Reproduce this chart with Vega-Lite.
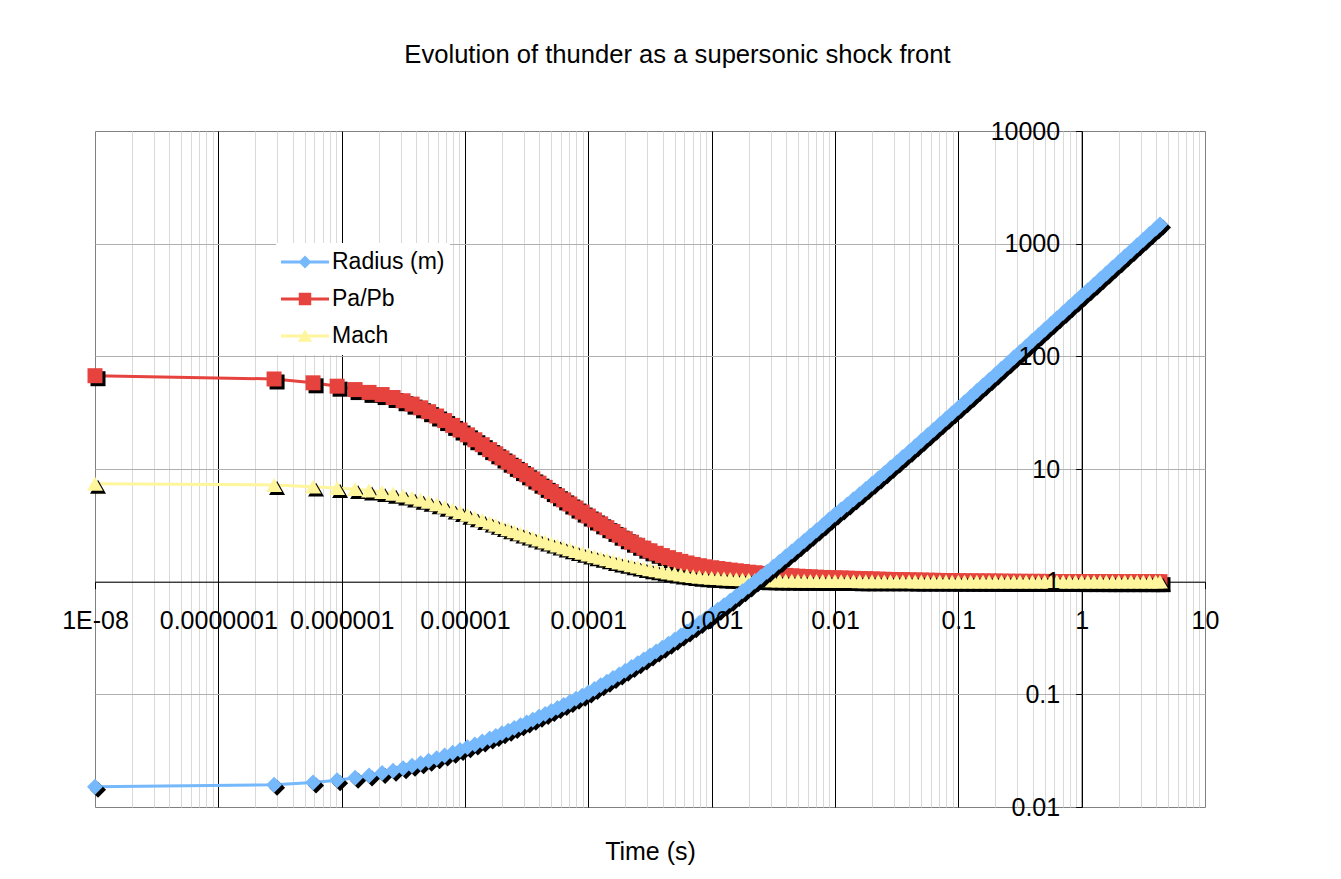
{
  "$schema": "https://vega.github.io/schema/vega-lite/v6.json",
  "width": 1110,
  "height": 676,
  "autosize": {"type": "none"},
  "padding": {"left": 95, "top": 131, "right": 136, "bottom": 72},
  "background": "white",
  "title": {"text": "Evolution of thunder as a supersonic shock front", "font": "Liberation Sans", "fontSize": 25.6, "fontWeight": "normal", "color": "black", "anchor": "middle", "dx": 27.5, "offset": 30, "baseline": "alphabetic"},
  "config": {"view": {"stroke": "#808080", "strokeWidth": 1}, "font": "Liberation Sans"},
  "data": {"values": [
    {"time":1e-8,"radius":0.0151,"pressure":67.3,"mach":7.396},
    {"time":2.831e-7,"radius":0.01578,"pressure":62.95,"mach":7.211},
    {"time":5.861e-7,"radius":0.01652,"pressure":58.21,"mach":6.966},
    {"time":9.183e-7,"radius":0.0173,"pressure":54.33,"mach":6.776},
    {"time":1.285e-6,"radius":0.01815,"pressure":50.7,"mach":6.622},
    {"time":1.667e-6,"radius":0.019,"pressure":47.86,"mach":6.442},
    {"time":2.128e-6,"radius":0.02001,"pressure":45.8,"mach":6.236},
    {"time":2.612e-6,"radius":0.02102,"pressure":43.09,"mach":6.025},
    {"time":3.148e-6,"radius":0.02211,"pressure":40.35,"mach":5.8},
    {"time":3.724e-6,"radius":0.02323,"pressure":37.65,"mach":5.575},
    {"time":4.365e-6,"radius":0.02443,"pressure":34.93,"mach":5.34},
    {"time":5.07e-6,"radius":0.0257,"pressure":32.26,"mach":5.103},
    {"time":5.888e-6,"radius":0.02709,"pressure":29.54,"mach":4.855},
    {"time":6.839e-6,"radius":0.02864,"pressure":26.91,"mach":4.607},
    {"time":7.943e-6,"radius":0.03034,"pressure":24.38,"mach":4.363},
    {"time":9.12e-6,"radius":0.03205,"pressure":22.18,"mach":4.141},
    {"time":1.047e-5,"radius":0.03392,"pressure":20.1,"mach":3.925},
    {"time":1.202e-5,"radius":0.03595,"pressure":18.18,"mach":3.719},
    {"time":1.38e-5,"radius":0.03816,"pressure":16.44,"mach":3.525},
    {"time":1.585e-5,"radius":0.04058,"pressure":14.86,"mach":3.34},
    {"time":1.778e-5,"radius":0.04274,"pressure":13.65,"mach":3.193},
    {"time":1.995e-5,"radius":0.04506,"pressure":12.53,"mach":3.053},
    {"time":2.239e-5,"radius":0.04756,"pressure":11.49,"mach":2.921},
    {"time":2.512e-5,"radius":0.05024,"pressure":10.55,"mach":2.796},
    {"time":2.818e-5,"radius":0.05311,"pressure":9.68,"mach":2.678},
    {"time":3.162e-5,"radius":0.05621,"pressure":8.888,"mach":2.566},
    {"time":3.548e-5,"radius":0.05953,"pressure":8.155,"mach":2.46},
    {"time":3.981e-5,"radius":0.06311,"pressure":7.486,"mach":2.359},
    {"time":4.467e-5,"radius":0.06697,"pressure":6.871,"mach":2.265},
    {"time":5.012e-5,"radius":0.07112,"pressure":6.306,"mach":2.176},
    {"time":5.623e-5,"radius":0.07559,"pressure":5.788,"mach":2.092},
    {"time":6.31e-5,"radius":0.08043,"pressure":5.318,"mach":2.012},
    {"time":7.079e-5,"radius":0.08563,"pressure":4.89,"mach":1.938},
    {"time":7.943e-5,"radius":0.09127,"pressure":4.501,"mach":1.867},
    {"time":8.913e-5,"radius":0.09738,"pressure":4.147,"mach":1.802},
    {"time":0.0001,"radius":0.104,"pressure":3.824,"mach":1.74},
    {"time":0.0001122,"radius":0.1118,"pressure":3.529,"mach":1.682},
    {"time":0.0001259,"radius":0.1202,"pressure":3.261,"mach":1.627},
    {"time":0.0001413,"radius":0.1294,"pressure":3.015,"mach":1.575},
    {"time":0.0001585,"radius":0.1394,"pressure":2.791,"mach":1.527},
    {"time":0.0001778,"radius":0.1502,"pressure":2.585,"mach":1.481},
    {"time":0.0001995,"radius":0.162,"pressure":2.403,"mach":1.438},
    {"time":0.0002239,"radius":0.1749,"pressure":2.242,"mach":1.397},
    {"time":0.0002512,"radius":0.189,"pressure":2.104,"mach":1.359},
    {"time":0.0002818,"radius":0.2043,"pressure":1.983,"mach":1.323},
    {"time":0.0003162,"radius":0.221,"pressure":1.878,"mach":1.29},
    {"time":0.0003548,"radius":0.2394,"pressure":1.787,"mach":1.258},
    {"time":0.0003981,"radius":0.2595,"pressure":1.705,"mach":1.229},
    {"time":0.0004467,"radius":0.2815,"pressure":1.634,"mach":1.203},
    {"time":0.0005012,"radius":0.3057,"pressure":1.57,"mach":1.178},
    {"time":0.0005623,"radius":0.3323,"pressure":1.514,"mach":1.156},
    {"time":0.000631,"radius":0.3617,"pressure":1.465,"mach":1.137},
    {"time":0.0007079,"radius":0.3941,"pressure":1.422,"mach":1.119},
    {"time":0.0007943,"radius":0.4299,"pressure":1.386,"mach":1.104},
    {"time":0.0008913,"radius":0.4696,"pressure":1.355,"mach":1.092},
    {"time":0.001,"radius":0.5137,"pressure":1.33,"mach":1.082},
    {"time":0.001122,"radius":0.5628,"pressure":1.308,"mach":1.074},
    {"time":0.001259,"radius":0.6175,"pressure":1.287,"mach":1.066},
    {"time":0.001413,"radius":0.6785,"pressure":1.267,"mach":1.059},
    {"time":0.001585,"radius":0.7463,"pressure":1.249,"mach":1.053},
    {"time":0.001778,"radius":0.8219,"pressure":1.231,"mach":1.047},
    {"time":0.001995,"radius":0.9065,"pressure":1.214,"mach":1.042},
    {"time":0.002239,"radius":1.001,"pressure":1.199,"mach":1.037},
    {"time":0.002512,"radius":1.107,"pressure":1.185,"mach":1.033},
    {"time":0.002818,"radius":1.224,"pressure":1.171,"mach":1.03},
    {"time":0.003162,"radius":1.356,"pressure":1.159,"mach":1.027},
    {"time":0.003548,"radius":1.504,"pressure":1.147,"mach":1.025},
    {"time":0.003981,"radius":1.669,"pressure":1.137,"mach":1.023},
    {"time":0.004467,"radius":1.855,"pressure":1.127,"mach":1.021},
    {"time":0.005012,"radius":2.062,"pressure":1.118,"mach":1.02},
    {"time":0.005623,"radius":2.295,"pressure":1.11,"mach":1.018},
    {"time":0.00631,"radius":2.555,"pressure":1.103,"mach":1.016},
    {"time":0.007079,"radius":2.846,"pressure":1.096,"mach":1.015},
    {"time":0.007943,"radius":3.174,"pressure":1.09,"mach":1.014},
    {"time":0.008913,"radius":3.54,"pressure":1.086,"mach":1.013},
    {"time":0.01,"radius":3.951,"pressure":1.081,"mach":1.012},
    {"time":0.01122,"radius":4.374,"pressure":1.078,"mach":1.012},
    {"time":0.01259,"radius":4.849,"pressure":1.074,"mach":1.011},
    {"time":0.01413,"radius":5.382,"pressure":1.07,"mach":1.01},
    {"time":0.01585,"radius":5.979,"pressure":1.067,"mach":1.009},
    {"time":0.01778,"radius":6.648,"pressure":1.062,"mach":1.009},
    {"time":0.01995,"radius":7.399,"pressure":1.057,"mach":1.008},
    {"time":0.02239,"radius":8.24,"pressure":1.053,"mach":1.007},
    {"time":0.02512,"radius":9.184,"pressure":1.05,"mach":1.007},
    {"time":0.02818,"radius":10.24,"pressure":1.046,"mach":1.006},
    {"time":0.03162,"radius":11.43,"pressure":1.042,"mach":1.006},
    {"time":0.03548,"radius":12.76,"pressure":1.04,"mach":1.005},
    {"time":0.03981,"radius":14.25,"pressure":1.038,"mach":1.005},
    {"time":0.04467,"radius":15.92,"pressure":1.035,"mach":1.004},
    {"time":0.05012,"radius":17.8,"pressure":1.033,"mach":1.004},
    {"time":0.05623,"radius":19.91,"pressure":1.03,"mach":1.004},
    {"time":0.0631,"radius":22.27,"pressure":1.028,"mach":1.003},
    {"time":0.07079,"radius":24.92,"pressure":1.026,"mach":1.003},
    {"time":0.07943,"radius":27.89,"pressure":1.023,"mach":1.003},
    {"time":0.08913,"radius":31.22,"pressure":1.021,"mach":1.002},
    {"time":0.1,"radius":34.96,"pressure":1.019,"mach":1.002},
    {"time":0.1122,"radius":39.15,"pressure":1.017,"mach":1.002},
    {"time":0.1259,"radius":43.85,"pressure":1.016,"mach":1.002},
    {"time":0.1413,"radius":49.13,"pressure":1.015,"mach":1.002},
    {"time":0.1585,"radius":55.05,"pressure":1.014,"mach":1.002},
    {"time":0.1778,"radius":61.69,"pressure":1.013,"mach":1.001},
    {"time":0.1995,"radius":69.15,"pressure":1.012,"mach":1.001},
    {"time":0.2239,"radius":77.51,"pressure":1.01,"mach":1.001},
    {"time":0.2512,"radius":86.89,"pressure":1.009,"mach":1.001},
    {"time":0.2818,"radius":97.42,"pressure":1.008,"mach":1.001},
    {"time":0.3162,"radius":109.2,"pressure":1.007,"mach":1.001},
    {"time":0.3548,"radius":122.5,"pressure":1.007,"mach":1.001},
    {"time":0.3981,"radius":137.4,"pressure":1.006,"mach":1.001},
    {"time":0.4467,"radius":154,"pressure":1.006,"mach":1.001},
    {"time":0.5012,"radius":172.8,"pressure":1.005,"mach":1.001},
    {"time":0.5623,"radius":193.8,"pressure":1.005,"mach":1.001},
    {"time":0.631,"radius":217.3,"pressure":1.004,"mach":1},
    {"time":0.7079,"radius":243.8,"pressure":1.004,"mach":1},
    {"time":0.7943,"radius":273.5,"pressure":1.003,"mach":1},
    {"time":0.8913,"radius":306.8,"pressure":1.003,"mach":1},
    {"time":1,"radius":344.1,"pressure":1.002,"mach":1},
    {"time":1.122,"radius":386,"pressure":1.002,"mach":1},
    {"time":1.259,"radius":432.8,"pressure":1.002,"mach":1},
    {"time":1.413,"radius":485.4,"pressure":1.002,"mach":1},
    {"time":1.585,"radius":544.4,"pressure":1.001,"mach":1},
    {"time":1.778,"radius":610.8,"pressure":1.001,"mach":1},
    {"time":1.995,"radius":685,"pressure":1.001,"mach":1},
    {"time":2.239,"radius":768.5,"pressure":1.001,"mach":1},
    {"time":2.512,"radius":862.2,"pressure":1.001,"mach":1},
    {"time":2.818,"radius":967.4,"pressure":1.001,"mach":1},
    {"time":3.162,"radius":1085,"pressure":1.001,"mach":1},
    {"time":3.548,"radius":1218,"pressure":1.001,"mach":1},
    {"time":3.981,"radius":1366,"pressure":1.001,"mach":1},
    {"time":4.315,"radius":1481,"pressure":1,"mach":1}
  ]},
  "resolve": {"axis": {"x": "independent", "y": "independent"}},
  "layer": [
    {
      "encoding": {
        "x": {"field": "time", "type": "quantitative", "scale": {"type": "log", "domain": [1e-8, 10], "nice": false},
          "axis": {"orient": "bottom", "values": [2e-8,3e-8,4e-8,5e-8,6e-8,7e-8,8e-8,9e-8,0.0000001,2e-7,3e-7,4e-7,5e-7,6e-7,7e-7,8e-7,9e-7,0.000001,2e-6,3e-6,4e-6,5e-6,6e-6,7e-6,8e-6,9e-6,0.00001,2e-5,3e-5,4e-5,5e-5,6e-5,7e-5,8e-5,9e-5,0.0001,0.0002,0.0003,0.0004,0.0005,0.0006,0.0007,0.0008,0.0009,0.001,0.002,0.003,0.004,0.005,0.006,0.007,0.008,0.009,0.01,0.02,0.03,0.04,0.05,0.06,0.07,0.08,0.09,0.1,0.2,0.3,0.4,0.5,0.6,0.7,0.8,0.9,1,2,3,4,5,6,7,8,9],
            "grid": true, "gridColor": {"condition": {"test": "indexof([0.0000001,0.000001,0.00001,0.0001,0.001,0.01,0.1,1], datum.value) >= 0", "value": "#000000"}, "value": "#d9d9d9"},
            "gridWidth": 1, "domain": false, "ticks": false, "labels": false, "title": null, "zindex": 0}}
      },
      "layer": [
        {"mark": {"type": "line", "color": "#E6433E", "strokeWidth": 3},
         "encoding": {"y": {"field": "pressure", "type": "quantitative", "scale": {"type": "log", "domain": [0.01, 10000], "nice": false},
           "axis": {"orient": "left", "values": [0.1, 1, 10, 100, 1000], "grid": true, "gridColor": "#b0b0b0", "domain": false, "ticks": false, "labels": false, "title": null, "zindex": 0}}}},
        {"mark": {"type": "point", "shape": "square", "filled": true, "color": "black", "opacity": 1, "size": 225, "xOffset": 3, "yOffset": 3},
         "encoding": {"y": {"field": "pressure", "type": "quantitative", "scale": {"type": "log", "domain": [0.01, 10000], "nice": false},
           "axis": {"orient": "left", "values": [0.1, 1, 10, 100, 1000], "grid": true, "gridColor": "#b0b0b0", "domain": false, "ticks": false, "labels": false, "title": null, "zindex": 0}}}},
        {"mark": {"type": "point", "shape": "square", "filled": true, "opacity": 1, "size": 225, "strokeWidth": 0},
         "encoding": {"y": {"field": "pressure", "type": "quantitative", "scale": {"type": "log", "domain": [0.01, 10000], "nice": false},
           "axis": {"orient": "left", "values": [0.1, 1, 10, 100, 1000], "grid": true, "gridColor": "#b0b0b0", "domain": false, "ticks": false, "labels": false, "title": null, "zindex": 0}},
           "color": {"datum": "Pa/Pb", "type": "nominal", "scale": {"domain": ["Radius (m)", "Pa/Pb", "Mach"], "range": ["#75B8FC", "#E6433E", "#FFF59C"]},
             "legend": {"orient": "none", "legendX": 181, "legendY": 112, "title": null, "fillColor": "white", "padding": 5, "clipHeight": 28, "symbolSize": 2304, "symbolStrokeWidth": 0, "symbolType": {"expr": "datum.value === 'Radius (m)' ? 'M-1,-0.065H1V0.065H-1Z M-0.27,0L0,-0.27L0.27,0L0,0.27Z' : datum.value === 'Pa/Pb' ? 'M-1,-0.065H1V0.065H-1Z M-0.26,-0.26H0.26V0.26H-0.26Z' : 'M-1,-0.065H1V0.065H-1Z M0,-0.27L0.3,0.24H-0.3Z'"}, "labelFont": "Liberation Sans", "labelFontSize": 23, "labelColor": "black", "labelOffset": 3, "rowPadding": 9, "labelLimit": 400}}}},
        {"mark": {"type": "line", "color": "#FFF59C", "strokeWidth": 3},
         "encoding": {"y": {"field": "mach", "type": "quantitative", "scale": {"type": "log", "domain": [0.01, 10000], "nice": false},
           "axis": {"orient": "left", "values": [0.1, 1, 10, 100, 1000], "grid": true, "gridColor": "#b0b0b0", "domain": false, "ticks": false, "labels": false, "title": null, "zindex": 0}}}},
        {"mark": {"type": "point", "shape": "triangle-up", "filled": true, "color": "black", "opacity": 1, "size": 256, "xOffset": 3, "yOffset": 3},
         "encoding": {"y": {"field": "mach", "type": "quantitative", "scale": {"type": "log", "domain": [0.01, 10000], "nice": false},
           "axis": {"orient": "left", "values": [0.1, 1, 10, 100, 1000], "grid": true, "gridColor": "#b0b0b0", "domain": false, "ticks": false, "labels": false, "title": null, "zindex": 0}}}},
        {"mark": {"type": "point", "shape": "triangle-up", "filled": true, "opacity": 1, "size": 256, "strokeWidth": 0},
         "encoding": {"y": {"field": "mach", "type": "quantitative", "scale": {"type": "log", "domain": [0.01, 10000], "nice": false},
           "axis": {"orient": "left", "values": [0.1, 1, 10, 100, 1000], "grid": true, "gridColor": "#b0b0b0", "domain": false, "ticks": false, "labels": false, "title": null, "zindex": 0}},
           "color": {"datum": "Mach", "type": "nominal", "scale": {"domain": ["Radius (m)", "Pa/Pb", "Mach"], "range": ["#75B8FC", "#E6433E", "#FFF59C"]},
             "legend": {"orient": "none", "legendX": 181, "legendY": 112, "title": null, "fillColor": "white", "padding": 5, "clipHeight": 28, "symbolSize": 2304, "symbolStrokeWidth": 0, "symbolType": {"expr": "datum.value === 'Radius (m)' ? 'M-1,-0.065H1V0.065H-1Z M-0.27,0L0,-0.27L0.27,0L0,0.27Z' : datum.value === 'Pa/Pb' ? 'M-1,-0.065H1V0.065H-1Z M-0.26,-0.26H0.26V0.26H-0.26Z' : 'M-1,-0.065H1V0.065H-1Z M0,-0.27L0.3,0.24H-0.3Z'"}, "labelFont": "Liberation Sans", "labelFontSize": 23, "labelColor": "black", "labelOffset": 3, "rowPadding": 9, "labelLimit": 400}}}},
        {"mark": {"type": "line", "color": "#75B8FC", "strokeWidth": 3},
         "encoding": {"y": {"field": "radius", "type": "quantitative", "scale": {"type": "log", "domain": [0.01, 10000], "nice": false},
           "axis": {"orient": "left", "values": [0.1, 1, 10, 100, 1000], "grid": true, "gridColor": "#b0b0b0", "domain": false, "ticks": false, "labels": false, "title": null, "zindex": 0}}}}
      ]
    },
    {
      "mark": {"type": "point", "shape": "diamond", "filled": true, "color": "black", "opacity": 1, "size": 256, "xOffset": 3, "yOffset": 3},
      "encoding": {
        "x": {"field": "time", "type": "quantitative", "scale": {"type": "log", "domain": [1e-8, 10], "nice": false},
          "axis": {"orient": "bottom", "offset": -225.333, "values": [1e-8,0.0000001,0.000001,0.00001,0.0001,0.001,0.01,0.1,1,10], "grid": false, "domain": true, "domainColor": "black", "domainWidth": 1, "ticks": true, "tickColor": "black", "tickSize": 7, "tickWidth": 1, "labels": false, "title": null, "zindex": 0}},
        "y": {"field": "radius", "type": "quantitative", "scale": {"type": "log", "domain": [0.01, 10000], "nice": false},
          "axis": {"orient": "left", "offset": -986.667, "values": [0.01, 0.1, 1, 10, 100, 1000, 10000], "grid": false, "domain": true, "domainColor": "black", "domainWidth": 1, "ticks": true, "tickColor": "black", "tickSize": 6, "tickWidth": 1, "labels": false, "title": null, "zindex": 0}}
      }
    },
    {
      "mark": {"type": "point", "shape": "diamond", "filled": true, "opacity": 1, "size": 256, "strokeWidth": 0},
      "encoding": {
        "x": {"field": "time", "type": "quantitative", "scale": {"type": "log", "domain": [1e-8, 10], "nice": false},
          "axis": {"orient": "bottom", "offset": -225.333, "values": [1e-8,0.0000001,0.000001,0.00001,0.0001,0.001,0.01,0.1,1,10], "grid": false, "domain": false, "ticks": false, "tickSize": 0, "labels": true,
            "labelExpr": "datum.value < 5e-8 ? '1E-08' : format(datum.value, '.7~f')", "labelFont": "Liberation Sans", "labelFontSize": 25, "labelColor": "black", "labelBaseline": "middle", "labelPadding": 39, "labelOverlap": false, "labelFlush": false, "labelBound": false,
            "title": "Time (s)", "titleFont": "Liberation Sans", "titleFontSize": 25, "titleFontWeight": "normal", "titleColor": "black", "titleY": 270, "titleBaseline": "middle", "zindex": 1}},
        "y": {"field": "radius", "type": "quantitative", "scale": {"type": "log", "domain": [0.01, 10000], "nice": false},
          "axis": {"orient": "left", "offset": -986.667, "values": [0.01, 0.1, 1, 10, 100, 1000, 10000], "grid": false, "domain": false, "ticks": false, "tickSize": 0, "labels": true, "format": "~g",
            "labelFont": "Liberation Sans", "labelFontSize": 25, "labelColor": "black", "labelAlign": "right", "labelBaseline": "middle", "labelPadding": 22, "labelOverlap": false, "labelFlush": false, "labelBound": false, "title": null, "zindex": 1}},
        "color": {"datum": "Radius (m)", "type": "nominal", "scale": {"domain": ["Radius (m)", "Pa/Pb", "Mach"], "range": ["#75B8FC", "#E6433E", "#FFF59C"]},
          "legend": {"orient": "none", "legendX": 181, "legendY": 112, "title": null, "fillColor": "white", "padding": 5, "clipHeight": 28, "symbolSize": 2304, "symbolStrokeWidth": 0, "symbolType": {"expr": "datum.value === 'Radius (m)' ? 'M-1,-0.065H1V0.065H-1Z M-0.27,0L0,-0.27L0.27,0L0,0.27Z' : datum.value === 'Pa/Pb' ? 'M-1,-0.065H1V0.065H-1Z M-0.26,-0.26H0.26V0.26H-0.26Z' : 'M-1,-0.065H1V0.065H-1Z M0,-0.27L0.3,0.24H-0.3Z'"}, "labelFont": "Liberation Sans", "labelFontSize": 23, "labelColor": "black", "labelOffset": 3, "rowPadding": 9, "labelLimit": 400}}
      }
    }
  ]
}
